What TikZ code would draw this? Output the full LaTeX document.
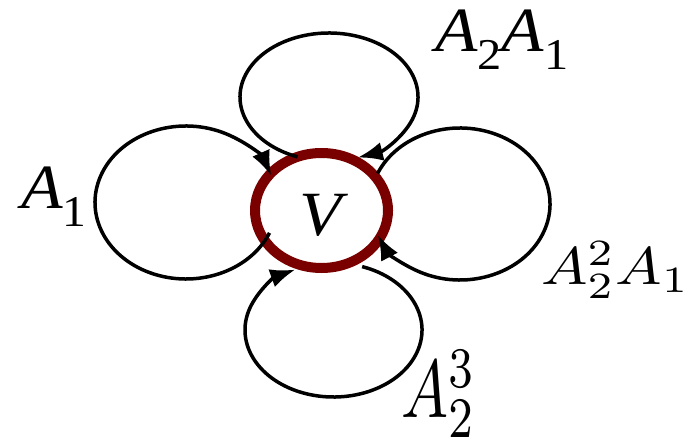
\documentclass[tikz,border=0pt]{standalone}
\usepackage{fontspec}
\usepackage{graphicx}
\usetikzlibrary{shapes.geometric,arrows.meta}
\newfontfamily\tms{Liberation Serif}
\definecolor{ringred}{RGB}{122,0,0}
\newcommand{\TS}[1]{\raisebox{-18pt}{\tms\upshape\fontsize{44}{44}\selectfont #1}}
\begin{document}
\begin{tikzpicture}[x=1pt,y=1pt,
  loopline/.style={line width=3.5pt,-{Latex[length=25pt,width=19pt]}},
  tlabel/.style={inner sep=0,anchor=base west,font=\tms\fontsize{63}{63}\selectfont},
  mlabel/.style={inner sep=0,anchor=base west}]
\useasboundingbox (0,0) rectangle (687,439);
\node[ellipse,draw=ringred,line width=10pt,minimum width=133pt,minimum height=115pt,inner sep=0] (R) at (321.5,228.5) {};
\node[tlabel] (V) at (299,203.5) {\scalebox{1.1}[1]{\itshape V}};
\node[tlabel] (L1) at (21,230) {\scalebox{1.08}[1]{\itshape A\TS{1}}};
\node[tlabel] (L2) at (435,387) {\scalebox{1.1}[1]{\itshape A\TS{2}\itshape A\TS{1}}};
\node[mlabel] (L3) at (541,154) {\scalebox{6.2}[5.3]{$A_2^2A_1$}};
\node[mlabel] (L4) at (401,22) {\scalebox{6.27}[8.2]{$A_2^3$}};
% loop centres
\coordinate (CL) at (186,236.5);
\coordinate (CT) at (329,342);
\coordinate (CR) at (460,235);
\coordinate (CB) at (333.5,109);
\draw[loopline] ([shift={(-23.4:91 and 76.5)}]CL) arc[start angle=-23.4,end angle=-339.5,x radius=91,y radius=76.5];
\draw[loopline] ([shift={(249.3:89 and 64)}]CT) arc[start angle=249.3,end angle=-71.1,x radius=89,y radius=64];
\draw[loopline] ([shift={(156.2:90 and 76)}]CR) arc[start angle=156.2,end angle=-156,x radius=90,y radius=76];
\draw[loopline] ([shift={(71.1:88.5 and 67)}]CB) arc[start angle=71.1,end angle=-244.4,x radius=88.5,y radius=67];
\end{tikzpicture}
\end{document}
